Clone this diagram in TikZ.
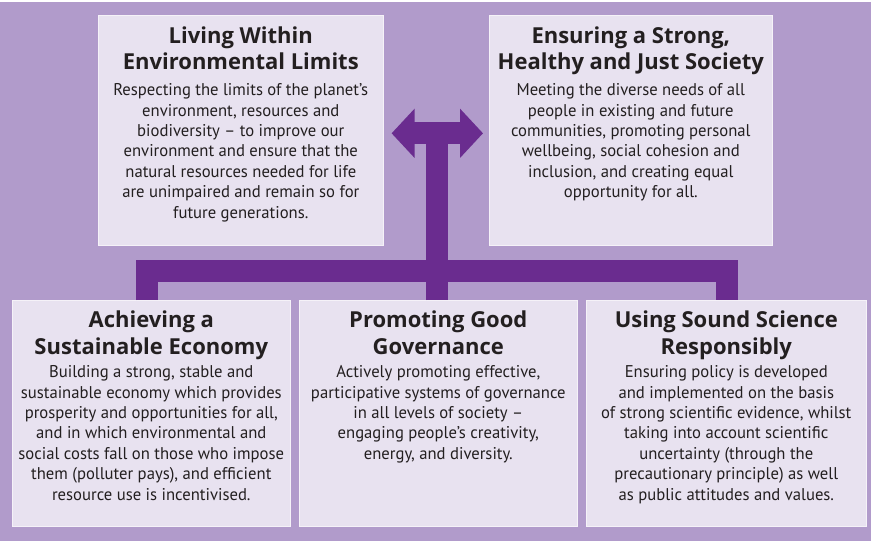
\documentclass[tikz,border=0pt]{standalone}
\usepackage{fontspec}
\setmainfont{PT Sans}
\newfontfamily\narrowfont[FakeStretch=0.98]{PT Sans}
\newfontfamily\headfont{Open Sans}
\usetikzlibrary{positioning, arrows.meta}
\definecolor{bgpurple}{HTML}{B19BCB}
\definecolor{boxlilac}{HTML}{E8E2F0}
\definecolor{barpurple}{HTML}{6A2C8F}
\definecolor{inkgrey}{HTML}{231F20}
\tikzset{
  panel/.style={fill=boxlilac, draw=white!55!boxlilac, line width=0.6pt, inner sep=0, anchor=north west},
  heading/.style={font=\headfont\bfseries\fontsize{22}{26.5}\selectfont, text=inkgrey, align=center, inner sep=0},
  blurb/.style={font=\narrowfont\fontsize{17}{20.4}\selectfont, text=inkgrey, align=center, inner sep=0},
  bar/.style={draw=barpurple, line width=22pt, line cap=butt, line join=miter},
  fork/.style={-{Triangle[length=23pt,width=48pt]}}
}

\begin{document}
\begin{tikzpicture}[x=1pt,y=-1pt]
\useasboundingbox (0,0) rectangle (871,541);
\fill[white] (0,0) rectangle (871,2);
\fill[bgpurple] (0,2) rectangle (871,541);

% the five panels
\node[panel, minimum width=285pt, minimum height=230pt] (env) at (98,15) {};
\node[panel, minimum width=283pt, minimum height=230pt] (soc) at (489,15) {};
\node[panel, minimum width=278pt, minimum height=226pt] (econ) at (12,300) {};
\node[panel, minimum width=278pt, minimum height=226pt] (gov) at (299,300) {};
\node[panel, minimum width=280pt, minimum height=226pt] (sci) at (586,300) {};

% headings
\node[heading, below=11.5pt of env.north] (envT) {Living Within\\Environmental Limits};
\node[heading, below=11.5pt of soc.north] (socT) {Ensuring a Strong,\\Healthy and Just Society};
\node[heading, below=11pt of econ.north] (econT) {Achieving a\\Sustainable Economy};
\node[heading, below=11pt of gov.north] (govT) {Promoting Good\\Governance};
\node[heading, below=11pt of sci.north] (sciT) {Using Sound Science\\Responsibly};

% texts
\node[blurb, below=68.5pt of env.north] (envB) {Respecting the limits of the planet’s\\environment, resources and\\biodiversity – to improve our\\environment and ensure that the\\natural resources needed for life\\are unimpaired and remain so for\\future generations.};
\node[blurb, below=68.5pt of soc.north] (socB) {Meeting the diverse needs of all\\people in existing and future\\communities, promoting personal\\wellbeing, social cohesion and\\inclusion, and creating equal\\opportunity for all.};
\node[blurb, below=65.5pt of econ.north] (econB) {Building a strong, stable and\\sustainable economy which provides\\prosperity and opportunities for all,\\and in which environmental and\\social costs fall on those who impose\\them (polluter pays), and efficient\\resource use is incentivised.};
\node[blurb, below=65.5pt of gov.north] (govB) {Actively promoting effective,\\participative systems of governance\\in all levels of society –\\engaging people’s creativity,\\energy, and diversity.};
\node[blurb, below=65.5pt of sci.north] (sciB) {Ensuring policy is developed\\and implemented on the basis\\of strong scientific evidence, whilst\\taking into account scientific\\uncertainty (through the\\precautionary principle) as well\\as public attitudes and values.};

% connectors
\coordinate (mid) at ([xshift=-1pt, yshift=-3pt]env.east -| gov.north);
\draw[bar] ([xshift=-4pt]econ.north) -- ++(0,-29) -| ([xshift=1pt]sci.north);
\draw[bar] ([xshift=-1pt]gov.north) -- ([yshift=11pt]mid);
\draw[bar, fork] (mid) -- ([xshift=8pt, yshift=-3pt]env.east);
\draw[bar, fork] (mid) -- ([xshift=-6pt, yshift=-3pt]soc.west);
\end{tikzpicture}
\end{document}
